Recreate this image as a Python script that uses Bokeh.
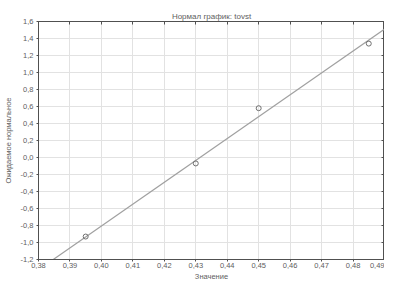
from bokeh.plotting import figure
from bokeh.models import LinearAxis, CustomJSTickFormatter, FixedTicker, Range1d
from bokeh.embed import file_html
from bokeh.resources import INLINE

# data
values = [0.395, 0.430, 0.450, 0.485]
expected = [-0.93, -0.07, 0.58, 1.34]
fit_x = [0.3847, 0.49]
fit_y = [-1.20, 1.51]
x_ticks = [0.38, 0.39, 0.40, 0.41, 0.42, 0.43, 0.44, 0.45, 0.46, 0.47, 0.48, 0.49]
y_ticks = [-1.2, -1.0, -0.8, -0.6, -0.4, -0.2, 0.0, 0.2, 0.4, 0.6, 0.8, 1.0, 1.2, 1.4, 1.6]

FONT = "Liberation Sans"
TXT = "#606060"

p = figure(frame_width=346, frame_height=238, output_backend="svg", toolbar_location=None,
           x_range=Range1d(0.38, 0.49), y_range=Range1d(-1.2, 1.6),
           title="Нормал график: tovst",
           min_border_left=38, min_border_right=0, min_border_top=21, min_border_bottom=0)
p.title.align = "center"
p.title.text_font = FONT
p.title.text_font_size = "8px"
p.title.text_font_style = "normal"
p.title.text_color = TXT
p.title.standoff = 2
p.title.offset = 0

p.outline_line_color = "#505050"
p.outline_line_width = 1
p.background_fill_color = "white"
p.border_fill_color = "white"

xf = CustomJSTickFormatter(code="return tick.toFixed(2).replace('.', ',');")
yf = CustomJSTickFormatter(code="var s = tick.toFixed(1).replace('.', ','); return s == '-0,0' ? '0,0' : s;")
blank = CustomJSTickFormatter(code="return '';")

for ax, fmt, ticks in ((p.xaxis[0], xf, x_ticks), (p.yaxis[0], yf, y_ticks)):
    ax.ticker = FixedTicker(ticks=ticks)
    ax.formatter = fmt
    ax.major_label_text_font = FONT
    ax.major_label_text_font_size = "7.5px"
    ax.major_label_text_color = TXT
    ax.axis_label_text_font = FONT
    ax.axis_label_text_font_size = "7.5px"
    ax.axis_label_text_font_style = "normal"
    ax.axis_label_text_color = TXT
    ax.axis_line_color = "#505050"
    ax.major_tick_line_color = "#505050"
    ax.major_tick_in = 0
    ax.major_tick_out = 2
    ax.minor_tick_line_color = None
    ax.major_label_standoff = 2
    ax.axis_label_standoff = 2

p.xaxis.major_label_standoff = 1
p.xaxis.axis_label_standoff = 1
p.xaxis.axis_label = "Значение"
p.yaxis.axis_label = "Ожидаемое нормальное"
p.yaxis.axis_label_standoff = 5
p.yaxis.major_label_standoff = 3

for loc, ticks in (("right", y_ticks), ("above", x_ticks)):
    a = LinearAxis(ticker=FixedTicker(ticks=ticks), formatter=blank,
                   major_tick_in=3, major_tick_out=0, minor_tick_line_color=None,
                   axis_line_color="#505050", major_tick_line_color="#505050",
                   major_label_standoff=0, major_label_text_font_size="1px",
                   axis_label_standoff=0)
    p.add_layout(a, loc)

p.xgrid.ticker = FixedTicker(ticks=x_ticks)
p.ygrid.ticker = FixedTicker(ticks=y_ticks)
p.grid.grid_line_color = "#e2e2e2"
p.grid.grid_line_width = 1

p.line(fit_x, fit_y, line_color="#a0a0a0", line_width=1.2)
p.scatter(values, expected, marker="circle", size=5, fill_color=None,
          line_color="#707070", line_width=1)

open("out.html", "w").write(file_html(p, INLINE))
